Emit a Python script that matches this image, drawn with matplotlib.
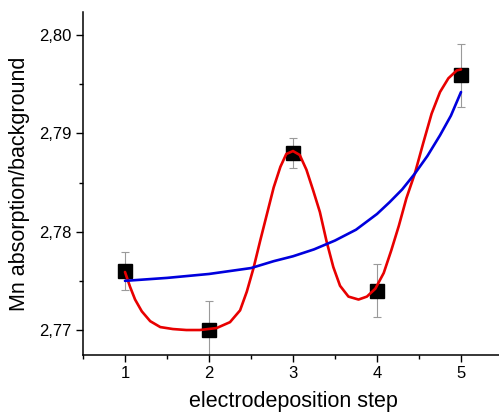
import matplotlib
matplotlib.use("Agg")
import matplotlib.pyplot as plt
from matplotlib.ticker import MultipleLocator, FuncFormatter

plt.rcParams['font.family'] = ['Liberation Sans', 'DejaVu Sans']

# measured points with error bars
steps = [1, 2, 3, 4, 5]
mn_ratio = [2.7760, 2.7700, 2.7880, 2.7740, 2.7959]
mn_err = [0.0019, 0.0030, 0.0015, 0.0027, 0.0032]

# red smooth curve
red_x = [1.00, 1.06, 1.12, 1.20, 1.30, 1.42, 1.57, 1.73, 1.89, 2.09, 2.25, 2.37, 2.45,
         2.53, 2.61, 2.69, 2.77, 2.85, 2.92, 3.00, 3.08, 3.16, 3.24, 3.32, 3.40, 3.48,
         3.56, 3.66, 3.78, 3.88, 3.98, 4.08, 4.17, 4.26, 4.35, 4.45, 4.55, 4.65, 4.75,
         4.85, 4.95, 5.00]
red_y = [2.7759, 2.7744, 2.7731, 2.7719, 2.7709, 2.7703, 2.7701, 2.7700, 2.7700, 2.7702,
         2.7708, 2.7720, 2.7739, 2.7763, 2.7791, 2.7818, 2.7845, 2.7866, 2.7879, 2.7882,
         2.7878, 2.7863, 2.7842, 2.7820, 2.7790, 2.7764, 2.7745, 2.7734, 2.7731, 2.7734,
         2.7742, 2.7758, 2.7781, 2.7806, 2.7834, 2.7859, 2.7890, 2.7920, 2.7942, 2.7956,
         2.7964, 2.7965]

# blue exponential-looking fit
blue_x = [1.0, 1.5, 2.0, 2.5, 2.77, 3.0, 3.25, 3.5, 3.75, 4.0, 4.15, 4.3, 4.45, 4.6,
          4.75, 4.88, 5.0]
blue_y = [2.7750, 2.7753, 2.7757, 2.7763, 2.7770, 2.7775, 2.7782, 2.7791, 2.7802, 2.7818,
          2.7830, 2.7843, 2.7859, 2.7877, 2.7898, 2.7918, 2.7942]

fig = plt.figure(figsize=(4.99, 4.18), dpi=100)
ax = fig.add_axes([83 / 499, (418 - 355) / 418, 420 / 499, (355 - 12) / 418])

ax.errorbar(steps, mn_ratio, yerr=mn_err, fmt='none', ecolor='#9a9a9a', elinewidth=0.8,
            capsize=2.9, capthick=0.8, zorder=2)
ax.plot(steps, mn_ratio, 's', color='black', markersize=10, zorder=3)
ax.plot(red_x, red_y, color='#e80000', lw=1.9, zorder=4, solid_capstyle='round',
        solid_joinstyle='round')
ax.plot(blue_x, blue_y, color='#0000dd', lw=1.9, zorder=4, solid_capstyle='round',
        solid_joinstyle='round')

ax.set_xlim(0.5, 5.5)
ax.set_ylim(2.76746, 2.80234)
ax.set_xticks(steps)
ax.set_yticks([2.77, 2.78, 2.79, 2.80])
ax.xaxis.set_minor_locator(MultipleLocator(0.5))
ax.yaxis.set_minor_locator(MultipleLocator(0.005))
ax.yaxis.set_major_formatter(FuncFormatter(lambda v, p: f"{v:.2f}".replace('.', ',')))

for s in ['top', 'right']:
    ax.spines[s].set_visible(False)
for s in ['left', 'bottom']:
    ax.spines[s].set_linewidth(1.1)

ax.tick_params(which='major', direction='out', length=5, width=1.0, labelsize=12, pad=3)
ax.tick_params(which='minor', direction='out', length=3, width=1.0)

ax.set_xlabel('electrodeposition step', fontsize=15.5, labelpad=7)
ax.set_ylabel('Mn absorption/background', fontsize=15.5, labelpad=7)

fig.savefig('out.png', dpi=100)
